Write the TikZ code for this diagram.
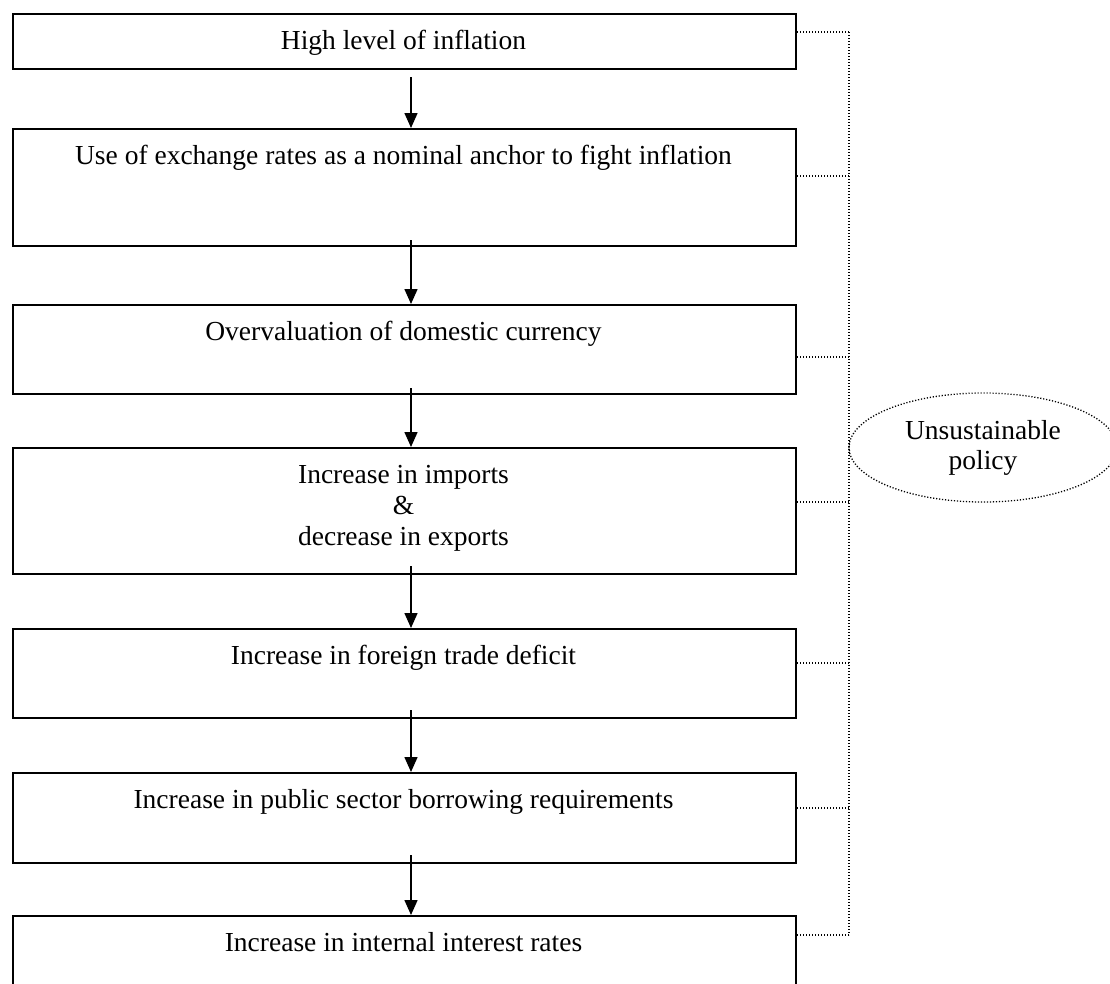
\documentclass[tikz,border=0pt]{standalone}
\usepackage{fontspec}
\setmainfont{Liberation Serif}
\usetikzlibrary{arrows.meta,shapes.geometric}
\begin{document}
\begin{tikzpicture}[x=1pt,y=-1pt,
  box/.style={draw=black,line width=2pt,minimum width=783pt,inner sep=0pt,anchor=north west},
  txt/.style={font=\fontsize{27.5}{31}\selectfont,anchor=base,inner sep=0pt},
  flow/.style={line width=1.5pt,-{Triangle[length=15pt,width=13pt]}},
  dotline/.style={line width=1.3pt,dash pattern=on 1.2pt off 1.8pt},
]
\clip (0,0) rectangle (1110,983);
\fill[white] (0,0) rectangle (1110,983);
% boxes
\node[box,minimum height=55pt]  (b1) at (12,13)  {};
\node[box,minimum height=117pt] (b2) at (12,128) {};
\node[box,minimum height=89pt]  (b3) at (12,304) {};
\node[box,minimum height=126pt] (b4) at (12,447) {};
\node[box,minimum height=89pt]  (b5) at (12,628) {};
\node[box,minimum height=90pt]  (b6) at (12,772) {};
\node[box,minimum height=110pt] (b7) at (12,915) {};
% texts
\node[txt] (t1) at (403.5,49)  {High level of inflation};
\node[txt] (t2) at (403.5,164) {Use of exchange rates as a nominal anchor to fight inflation};
\node[txt] (t3) at (403.5,340) {Overvaluation of domestic currency};
\node[txt] (t4a) at (403.5,483) {Increase in imports};
\node[txt] (t4b) at (403.5,514) {\&};
\node[txt] (t4c) at (403.5,545) {decrease in exports};
\node[txt] (t5) at (403.5,664) {Increase in foreign trade deficit};
\node[txt] (t6) at (403.5,808) {Increase in public sector borrowing requirements};
\node[txt] (t7) at (403.5,951) {Increase in internal interest rates};
% arrows
\draw[flow] ([xshift=6.5pt,yshift=-7pt]b1.south) -- ([xshift=6.5pt]b2.north);
\draw[flow] ([xshift=6.5pt,yshift=7pt]b2.south) -- ([xshift=6.5pt]b3.north);
\draw[flow] ([xshift=6.5pt,yshift=7pt]b3.south) -- ([xshift=6.5pt]b4.north);
\draw[flow] ([xshift=6.5pt,yshift=9pt]b4.south) -- ([xshift=6.5pt]b5.north);
\draw[flow] ([xshift=6.5pt,yshift=9pt]b5.south) -- ([xshift=6.5pt]b6.north);
\draw[flow] ([xshift=6.5pt,yshift=9pt]b6.south) -- ([xshift=6.5pt]b7.north);
% bracket
\coordinate (s1) at (849,32);
\coordinate (s2) at (849,176);
\coordinate (s3) at (849,357);
\coordinate (s4) at (849,502);
\coordinate (s5) at (849,663);
\coordinate (s6) at (849,808);
\coordinate (s7) at (849,935);
\draw[dotline] (s1) -- (s7);
\draw[dotline] (b1.east |- s1) -- (s1);
\draw[dotline] (b2.east |- s2) -- (s2);
\draw[dotline] (b3.east |- s3) -- (s3);
\draw[dotline] (b4.east |- s4) -- (s4);
\draw[dotline] (b5.east |- s5) -- (s5);
\draw[dotline] (b6.east |- s6) -- (s6);
\draw[dotline] (b7.east |- s7) -- (s7);
% ellipse
\node[ellipse,draw=black,dotline,minimum width=268pt,minimum height=109pt,inner sep=0pt,
      align=center,font=\fontsize{27.5}{30}\selectfont] (pol) at (983,447.5) {Unsustainable\\policy};
\end{tikzpicture}
\end{document}
